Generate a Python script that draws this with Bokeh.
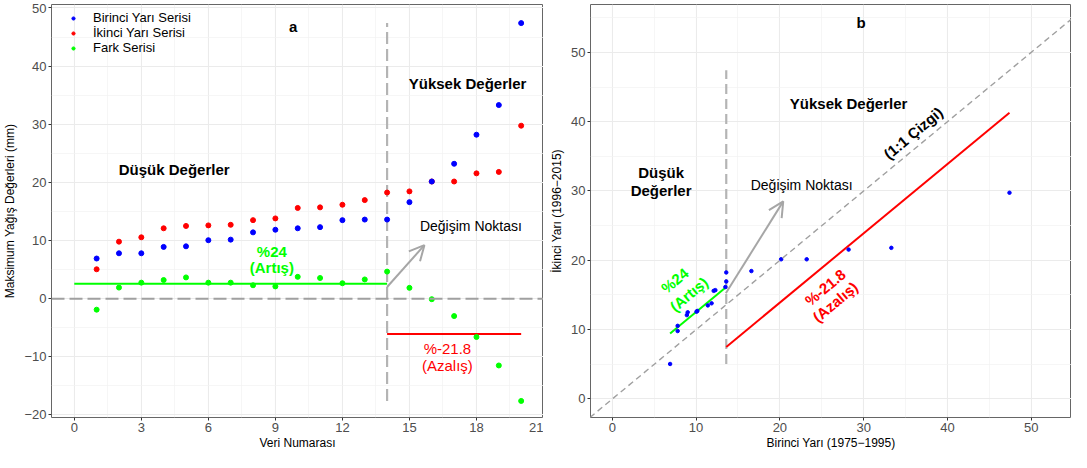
import math
from bokeh.plotting import figure
from bokeh.models import (ColumnDataSource, Range1d, FixedTicker, Arrow, OpenHead,
                          Legend, LegendItem, Span, Slope)
from bokeh.layouts import row
from bokeh.embed import file_html
from bokeh.resources import INLINE
from bokeh.core.properties import value

# ---------------- data ----------------
veri_no = list(range(1, 21))
birinci = [6.9, 7.8, 7.8, 8.9, 9.0, 10.05, 10.15, 11.4, 11.85, 12.1,
           12.3, 13.5, 13.6, 13.6, 16.6, 20.15, 23.2, 28.2, 33.3, 47.4]
ikinci = [5.05, 9.8, 10.55, 12.1, 12.5, 12.6, 12.7, 13.5, 13.8, 15.6,
          15.7, 16.15, 16.95, 18.25, 18.45, 20.15, 20.15, 21.55, 21.8, 29.75]
fark = [-1.9, 1.9, 2.75, 3.2, 3.65, 2.75, 2.75, 2.3, 2.1, 3.75,
        3.55, 2.65, 3.3, 4.65, 1.85, -0.1, -3.0, -6.6, -11.5, -17.6]

degisim_noktasi = 14          # change point (data index)
degisim_birinci = 13.6        # change point (first-half value)
dusuk_ort_fark = 2.55         # mean difference, low values (+24 %)
yuksek_ort_fark = -6.1        # mean difference, high values (-21.8 %)

x_ticks_a = [0, 3, 6, 9, 12, 15, 18, 21]
x_minor_a = [1.5, 4.5, 7.5, 10.5, 13.5, 16.5, 19.5]
y_ticks_a = [-20, -10, 0, 10, 20, 30, 40, 50]
y_minor_a = [-15, -5, 5, 15, 25, 35, 45]
ticks_b = [0, 10, 20, 30, 40, 50]
minor_b = [5, 15, 25, 35, 45, 55]

FONT = "Liberation Sans"
BLUE, RED, GREEN = "#0000FF", "#FF0000", "#00FF00"
GRAY = "#A6A6A6"
DGRAY = "#A0A0A0"

W1, W2, H = 543, 528, 452


def style(p, xt, xm, yt, ym, xlabel, ylabel):
    p.xaxis.ticker = FixedTicker(ticks=xt, minor_ticks=xm)
    p.yaxis.ticker = FixedTicker(ticks=yt, minor_ticks=ym)
    p.xaxis.axis_label = xlabel
    p.yaxis.axis_label = ylabel
    for ax in (p.xaxis[0], p.yaxis[0]):
        ax.axis_line_color = None
        ax.major_tick_line_color = "#333333"
        ax.major_tick_out = 3
        ax.major_tick_in = 0
        ax.minor_tick_line_color = None
        ax.major_label_text_font = FONT
        ax.major_label_text_font_size = "13px"
        ax.major_label_text_color = "#4D4D4D"
        ax.major_label_standoff = 1
        ax.axis_label_text_font = FONT
        ax.axis_label_text_font_size = "12px"
        ax.axis_label_text_font_style = "normal"
        ax.axis_label_text_color = "black"
        ax.axis_label_standoff = 1
    p.yaxis[0].axis_label_standoff = 4
    for g in (p.xgrid[0], p.ygrid[0]):
        g.grid_line_color = "#EBEBEB"
        g.grid_line_width = 1.1
        g.minor_grid_line_color = "#F2F2F2"
        g.minor_grid_line_width = 0.7
    p.outline_line_color = "#666666"
    p.outline_line_width = 1
    p.background_fill_color = "white"
    p.border_fill_color = "white"


def label(p, x, y, txt, size="15px", color="black", bold=False, angle=0.0):
    p.text(x=[x], y=[y], text=[txt], text_font=value(FONT), text_font_size=size,
           text_color=color, text_font_style="bold" if bold else "normal",
           text_align="center", text_baseline="middle", angle=angle)


# ---------------- panel a ----------------
p1 = figure(width=W1, height=H, output_backend="svg", toolbar_location=None,
            x_range=Range1d(-1.02, 21), y_range=Range1d(-20.45, 50.6),
            min_border_left=40, min_border_right=0, min_border_top=4, min_border_bottom=30)
style(p1, x_ticks_a, x_minor_a, y_ticks_a, y_minor_a,
      "Veri Numarası", "Maksimum Yağış Değerleri (mm)")
p1.yaxis.major_label_overrides = {-10: "−10", -20: "−20"}

src = ColumnDataSource(dict(veri=veri_no, birinci=birinci, ikinci=ikinci, fark=fark))

p1.add_layout(Span(location=0, dimension="width", line_color=DGRAY,
                   line_width=2, line_dash="13 5"))
p1.segment(x0=[degisim_noktasi], y0=[min(fark)], x1=[degisim_noktasi], y1=[max(birinci)],
           line_color="#B4B4B4", line_width=2.2, line_dash="12 5")
p1.segment(x0=[0], y0=[dusuk_ort_fark], x1=[degisim_noktasi], y1=[dusuk_ort_fark],
           line_color=GREEN, line_width=2)
p1.segment(x0=[degisim_noktasi], y0=[yuksek_ort_fark], x1=[max(veri_no)], y1=[yuksek_ort_fark],
           line_color=RED, line_width=2)

r2 = p1.scatter("veri", "ikinci", source=src, size=5, color=RED)
r1 = p1.scatter("veri", "birinci", source=src, size=5, color=BLUE)
r3 = p1.scatter("veri", "fark", source=src, size=5, color=GREEN)

p1.add_layout(Arrow(end=OpenHead(size=15, line_color=GRAY, line_width=2),
                    x_start=14, y_start=2.0, x_end=15.67, y_end=9.2,
                    line_color=GRAY, line_width=2))

legend = Legend(items=[LegendItem(label="Birinci Yarı Serisi", renderers=[r1]),
                       LegendItem(label="İkinci Yarı Serisi", renderers=[r2]),
                       LegendItem(label="Fark Serisi", renderers=[r3])],
                location="top_left", background_fill_alpha=0, border_line_color=None,
                label_text_font=FONT, label_text_font_size="13px", label_text_color="black",
                glyph_width=32, glyph_height=8, label_height=14, spacing=0,
                margin=6, padding=2, label_standoff=4)
p1.add_layout(legend)

label(p1, 9.8, 46.8, "a", bold=True)
label(p1, 4.47, 22.3, "Düşük Değerler", bold=True)
label(p1, 17.6, 37.0, "Yüksek Değerler", bold=True)
label(p1, 17.75, 12.5, "Değişim Noktası", size="14px")
label(p1, 8.84, 8.1, "%24", color=GREEN, bold=True)
label(p1, 8.84, 5.3, "(Artış)", color=GREEN, bold=True)
label(p1, 16.7, -8.5, "%-21.8", color=RED, size="15px")
label(p1, 16.7, -11.45, "(Azalış)", color=RED, size="15px")

# ---------------- panel b ----------------
xr_b = (-2.6, 54.8)
yr_b = (-2.67, 56.9)
p2 = figure(width=W2, height=H, output_backend="svg", toolbar_location=None,
            x_range=Range1d(*xr_b), y_range=Range1d(*yr_b),
            min_border_left=47, min_border_right=0, min_border_top=4, min_border_bottom=30)
style(p2, ticks_b, minor_b, ticks_b, minor_b,
      "Birinci Yarı (1975−1995)", "İkinci Yarı (1996−2015)")

fw = W2 - 47 - 6
fh = H - 4 - 36
ang = math.atan((fh / (yr_b[1] - yr_b[0])) / (fw / (xr_b[1] - xr_b[0])))

p2.add_layout(Slope(gradient=1, y_intercept=0, line_color=DGRAY, line_width=1.4,
                    line_dash="6 4"))
p2.segment(x0=[degisim_birinci], y0=[min(ikinci)], x1=[degisim_birinci], y1=[max(birinci)],
           line_color="#B4B4B4", line_width=2.2, line_dash="10 5")
p2.segment(x0=[min(birinci)], y0=[min(birinci) + dusuk_ort_fark],
           x1=[degisim_birinci], y1=[degisim_birinci + dusuk_ort_fark],
           line_color=GREEN, line_width=2)
p2.segment(x0=[degisim_birinci], y0=[degisim_birinci + yuksek_ort_fark],
           x1=[max(birinci)], y1=[max(birinci) + yuksek_ort_fark],
           line_color=RED, line_width=2)
p2.scatter("birinci", "ikinci", source=src, size=3.5, color=BLUE)

p2.add_layout(Arrow(end=OpenHead(size=15, line_color=GRAY, line_width=2),
                    x_start=13.55, y_start=15.25, x_end=20.4, y_end=28.5,
                    line_color=GRAY, line_width=2))

label(p2, 29.7, 54.3, "b", bold=True)
label(p2, 28.2, 42.55, "Yüksek Değerler", bold=True)
label(p2, 5.82, 32.6, "Düşük", bold=True)
label(p2, 5.82, 30.1, "Değerler", bold=True)
label(p2, 22.6, 30.9, "Değişim Noktası", size="14px")
label(p2, 35.9, 38.35, "(1:1 Çizgi)", bold=True, angle=ang)
label(p2, 7.46, 17.1, "%24", color=GREEN, bold=True, angle=ang)
label(p2, 9.13, 15.1, "(Artış)", color=GREEN, bold=True, angle=ang)
label(p2, 25.4, 16.1, "%-21.8", color=RED, bold=True, angle=ang)
label(p2, 26.6, 14.0, "(Azalış)", color=RED, bold=True, angle=ang)

layout = row(p1, p2)
open("out.html", "w").write(file_html(layout, INLINE))
